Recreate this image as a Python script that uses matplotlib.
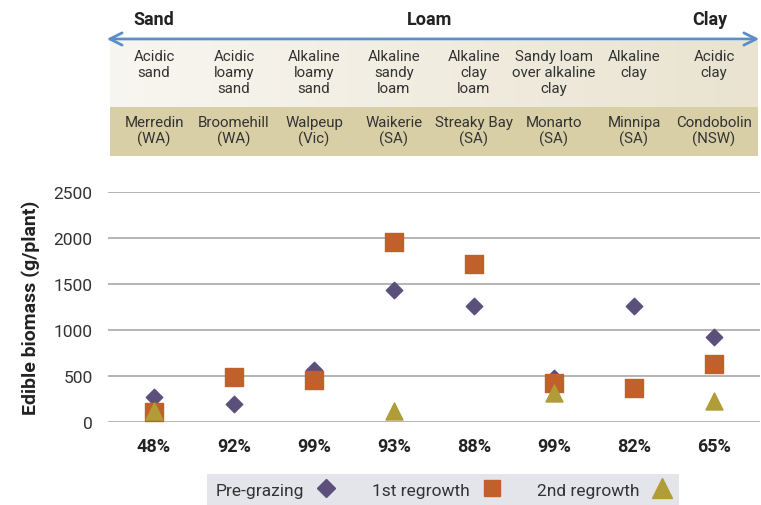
import numpy as np
import matplotlib.pyplot as plt
from matplotlib.lines import Line2D

# data
pct_labels = ['48%', '92%', '99%', '93%', '88%', '99%', '82%', '65%']
soil_types = ['Acidic\nsand', 'Acidic\nloamy\nsand', 'Alkaline\nloamy\nsand', 'Alkaline\nsandy\nloam',
              'Alkaline\nclay\nloam', 'Sandy loam\nover alkaline\nclay', 'Alkaline\nclay', 'Acidic\nclay']
sites = ['Merredin\n(WA)', 'Broomehill\n(WA)', 'Walpeup\n(Vic)', 'Waikerie\n(SA)',
         'Streaky Bay\n(SA)', 'Monarto\n(SA)', 'Minnipa\n(SA)', 'Condobolin\n(NSW)']
texture_groups = ['Sand', 'Loam', 'Clay']
texture_pos = [0.0, 3.45, 6.95]

pre_grazing = [270, 200, 570, 1430, 1260, 480, 1265, 920]
regrowth_1 = [105, 490, 460, 1960, 1720, 420, 370, 630]
regrowth_2 = [115, np.nan, np.nan, 115, np.nan, 320, np.nan, 225]

c_pre = '#5b4f7b'
c_r1 = '#c0602a'
c_r2 = '#b09d38'
c_arrow = '#5b8dc8'

fam = ['Liberation Sans Narrow', 'Roboto', 'DejaVu Sans']
plt.rcParams['font.family'] = fam
plt.rcParams['text.color'] = '#333333'

W, H = 761, 506
fig = plt.figure(figsize=(W / 100, H / 100), dpi=100)

x = np.arange(len(pct_labels))
xlim = (-0.575, 7.575)
left, right = 108 / W, 760 / W

# main plot
ax = fig.add_axes([left, 1 - 423 / H, right - left, (423 - 193) / H])
ax.set_xlim(xlim)
ax.set_ylim(0, 2500)
ax.set_yticks(range(0, 2501, 500))
ax.grid(axis='y', color='#b4b4b4', lw=1.4)
ax.set_axisbelow(True)
for s in ax.spines.values():
    s.set_visible(False)
ax.tick_params(length=0)
ax.tick_params(axis='y', labelsize=12.5, labelcolor='#333333', pad=11)
ax.set_xticks(x)
ax.set_xticklabels(pct_labels, fontsize=13, fontweight='bold', color='#222222')
ax.tick_params(axis='x', pad=11)
ax.set_ylabel('Edible biomass (g/plant)', fontsize=14, fontweight='bold', color='#222222', labelpad=10)

ax.scatter(x, pre_grazing, marker='D', s=70, color=c_pre, zorder=3, clip_on=False)
ax.scatter(x, regrowth_1, marker='s', s=150, color=c_r1, zorder=4, clip_on=False)
ax.scatter(x, regrowth_2, marker='^', s=150, color=c_r2, zorder=5, clip_on=False)

# header with soil texture, soil type and site
hx = fig.add_axes([left, 1 - 160 / H, right - left, 160 / H])
hx.set_xlim(xlim)
hx.set_ylim(160, 0)
hx.axis('off')

px = (xlim[1] - xlim[0]) / (760 - 108)  # data units per pixel
band_l = xlim[0] + 2 * px
band_r = xlim[1] - 2 * px
grad = np.linspace(0, 1, 256)[None, :, None]
c0 = np.array([248, 246, 240]) / 255
c1 = np.array([233, 227, 208]) / 255
hx.imshow(c0 + (c1 - c0) * grad, extent=(band_l, band_r, 108, 42), aspect='auto', zorder=1)
hx.fill_between([band_l, band_r], 108, 157, color='#d9cfa6', lw=0, zorder=1)
hx.set_xlim(xlim)
hx.set_ylim(160, 0)

hx.annotate('', xy=(xlim[0] - 4 * px, 40), xytext=(xlim[1] + 2 * px, 40),
            arrowprops=dict(arrowstyle='<->', color=c_arrow, lw=2, mutation_scale=22),
            annotation_clip=False, zorder=3)
for lab, p in zip(texture_groups, texture_pos):
    hx.text(p, 20, lab, ha='center', va='center', fontsize=13, fontweight='bold', color='#222222')

for i in x:
    hx.text(i, 50, soil_types[i], ha='center', va='top', fontsize=10.8, linespacing=1.16, color='#333333')
    hx.text(i, 116, sites[i], ha='center', va='top', fontsize=10.8, linespacing=1.16, color='#333333')

# legend
handles = [Line2D([], [], ls='', marker='D', ms=9, color=c_pre),
           Line2D([], [], ls='', marker='s', ms=12, color=c_r1),
           Line2D([], [], ls='', marker='^', ms=14, color=c_r2)]
leg = fig.legend(handles, ['Pre-grazing', '1st regrowth', '2nd regrowth'], ncol=3, markerfirst=False,
                 loc='center', bbox_to_anchor=(443 / W, 1 - 491 / H), frameon=True, fancybox=False,
                 facecolor='#e3e5ea', edgecolor='none', framealpha=1, fontsize=12.5,
                 handletextpad=0.8, columnspacing=2.1, borderpad=0.5, handlelength=1.0)

fig.savefig('out.png', dpi=100)
